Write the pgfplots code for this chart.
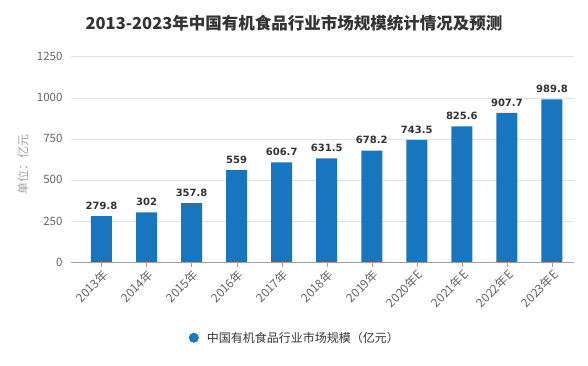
\documentclass[border=0pt]{standalone}
\usepackage{pgfplots}
\pgfplotsset{compat=1.18}
\usepackage{fontspec}
\setmainfont{Noto Sans CJK SC}
\newfontfamily\valfont{DejaVu Sans}
\definecolor{barblue}{RGB}{24,118,190}
\definecolor{gridgray}{RGB}{224,224,224}
\definecolor{axgray}{RGB}{160,160,160}
\definecolor{txtgray}{RGB}{100,100,100}
\definecolor{titlegray}{RGB}{51,51,51}
\begin{document}
\begin{tikzpicture}
\useasboundingbox (0pt,0pt) rectangle (588pt,366pt);
\node[font=\fontsize{16.5}{16.5}\selectfont\bfseries, text=titlegray] at (294pt,343pt) {2013-2023年中国有机食品行业市场规模统计情况及预测};
\node[rotate=90, font=\fontsize{12}{12}\selectfont, text=axgray] at (23pt,201pt) {单位：亿元};
\begin{axis}[
  at={(71pt,104pt)}, anchor=south west,
  scale only axis, width=503pt, height=205.3pt,
  xmin=-0.677, xmax=10.49, ymin=0, ymax=1250,
  ytick={0,250,500,750,1000,1250},
  xtick={0,...,10},
  xticklabels={2013年,2014年,2015年,2016年,2017年,2018年,2019年,2020年E,2021年E,2022年E,2023年E},
  xticklabel style={rotate=45, anchor=north east, font=\fontsize{12}{12}\selectfont, text=txtgray, inner sep=1pt},
  yticklabel style={font=\fontsize{11.5}{11.5}\selectfont, text=txtgray},
  /pgf/number format/assume math mode=true,
  /pgf/number format/1000 sep={},
  axis y line=left, axis x line=bottom,
  y axis line style={draw=none},
  x axis line style={draw=axgray, -},
  ytick style={draw=none},
  xtick style={draw=axgray},
  tick align=outside, major tick length=5pt,
  ymajorgrids, grid style={draw=gridgray},
  enlargelimits=false,
  clip=false,
  legend style={at={(0.445,-0.369)}, anchor=center, draw=none, fill=none,
     font=\fontsize{12}{12}\selectfont, text=titlegray},
  legend image code/.code={\fill[barblue] (0pt,0pt) circle (5pt); \path (11pt,0pt);},
]
\addplot[ybar, bar width=21pt, fill=barblue, draw=none,
  nodes near coords,
  every node near coord/.append style={font=\valfont\bfseries\fontsize{10}{10}\selectfont, text=titlegray, yshift=3pt},
  point meta=explicit symbolic]
  table[meta=label] {
  x y label
  0 279.8 279.8
  1 302 302
  2 357.8 357.8
  3 559 559
  4 606.7 606.7
  5 631.5 631.5
  6 678.2 678.2
  7 743.5 743.5
  8 825.6 825.6
  9 907.7 907.7
  10 989.8 989.8
  };
\addlegendentry{中国有机食品行业市场规模（亿元）}
\end{axis}
\end{tikzpicture}
\end{document}
